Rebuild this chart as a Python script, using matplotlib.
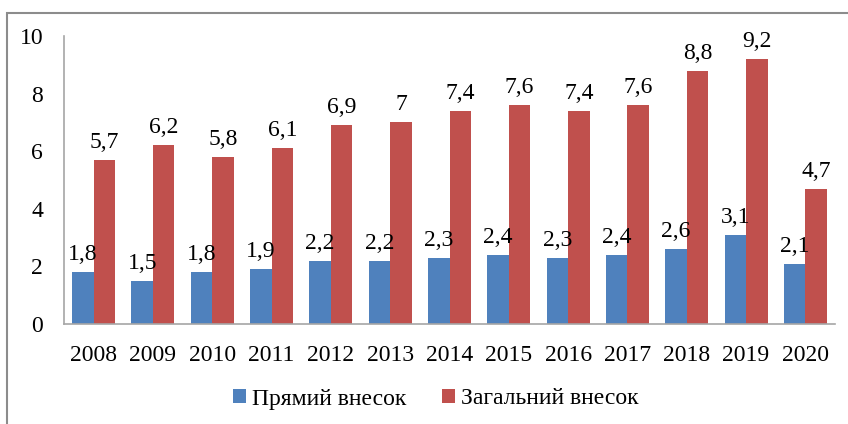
import matplotlib
matplotlib.use("Agg")
import matplotlib.pyplot as plt
import numpy as np
from matplotlib.patches import Rectangle

years = ["2008", "2009", "2010", "2011", "2012", "2013", "2014", "2015", "2016", "2017", "2018", "2019", "2020"]
direct = [1.8, 1.5, 1.8, 1.9, 2.2, 2.2, 2.3, 2.4, 2.3, 2.4, 2.6, 3.1, 2.1]
total = [5.7, 6.2, 5.8, 6.1, 6.9, 7.0, 7.4, 7.6, 7.4, 7.6, 8.8, 9.2, 4.7]
labels_direct = ["1,8", "1,5", "1,8", "1,9", "2,2", "2,2", "2,3", "2,4", "2,3", "2,4", "2,6", "3,1", "2,1"]
labels_total = ["5,7", "6,2", "5,8", "6,1", "6,9", "7", "7,4", "7,6", "7,4", "7,6", "8,8", "9,2", "4,7"]
series_names = ["Прямий внесок", "Загальний внесок"]

plt.rcParams['font.family'] = ['Liberation Serif', 'DejaVu Serif']
FS = 17

fig = plt.figure(figsize=(8.48, 4.24), dpi=100)
ax = fig.add_axes([64/848, 1-324/424, (835-64)/848, (324-36)/424])

x = np.arange(len(years))
w = 0.363
blue = "#4F81BD"
red = "#C0504D"
b1 = ax.bar(x - w/2, direct, w, color=blue, label=series_names[0])
b2 = ax.bar(x + w/2, total, w, color=red, label=series_names[1])

for rect, lab in zip(b1, labels_direct):
    ax.annotate(lab, (rect.get_x() + rect.get_width()/2, rect.get_height()),
                xytext=(0, 5), textcoords="offset points", ha="center", va="bottom", fontsize=FS)
for rect, lab in zip(b2, labels_total):
    ax.annotate(lab, (rect.get_x() + rect.get_width()/2, rect.get_height()),
                xytext=(0, 5), textcoords="offset points", ha="center", va="bottom", fontsize=FS)

ax.set_xlim(-0.5, len(years) - 0.5)
ax.set_ylim(0, 10)
ax.set_yticks([0, 2, 4, 6, 8, 10])
ax.set_xticks(x)
ax.set_xticklabels(years)
ax.tick_params(axis="both", length=0, labelsize=FS)
ax.tick_params(axis="y", pad=15)
ax.tick_params(axis="x", pad=15)
for s in ["top", "right"]:
    ax.spines[s].set_visible(False)
for s in ["left", "bottom"]:
    ax.spines[s].set_color("#A6A6A6")
    ax.spines[s].set_linewidth(1.2)

fig.legend(handles=[b1, b2], loc="center", bbox_to_anchor=(436/848, 1-399/424), ncol=2,
           frameon=False, fontsize=FS, handlelength=0.55, handleheight=0.55,
           handletextpad=0.25, columnspacing=1.5)

fig.patches.append(Rectangle((7/848, -0.1), 1.2, (424-13)/424 + 0.1, transform=fig.transFigure,
                             fill=False, edgecolor="#8C8C8C", linewidth=1.5))

fig.savefig("out.png", dpi=100)
